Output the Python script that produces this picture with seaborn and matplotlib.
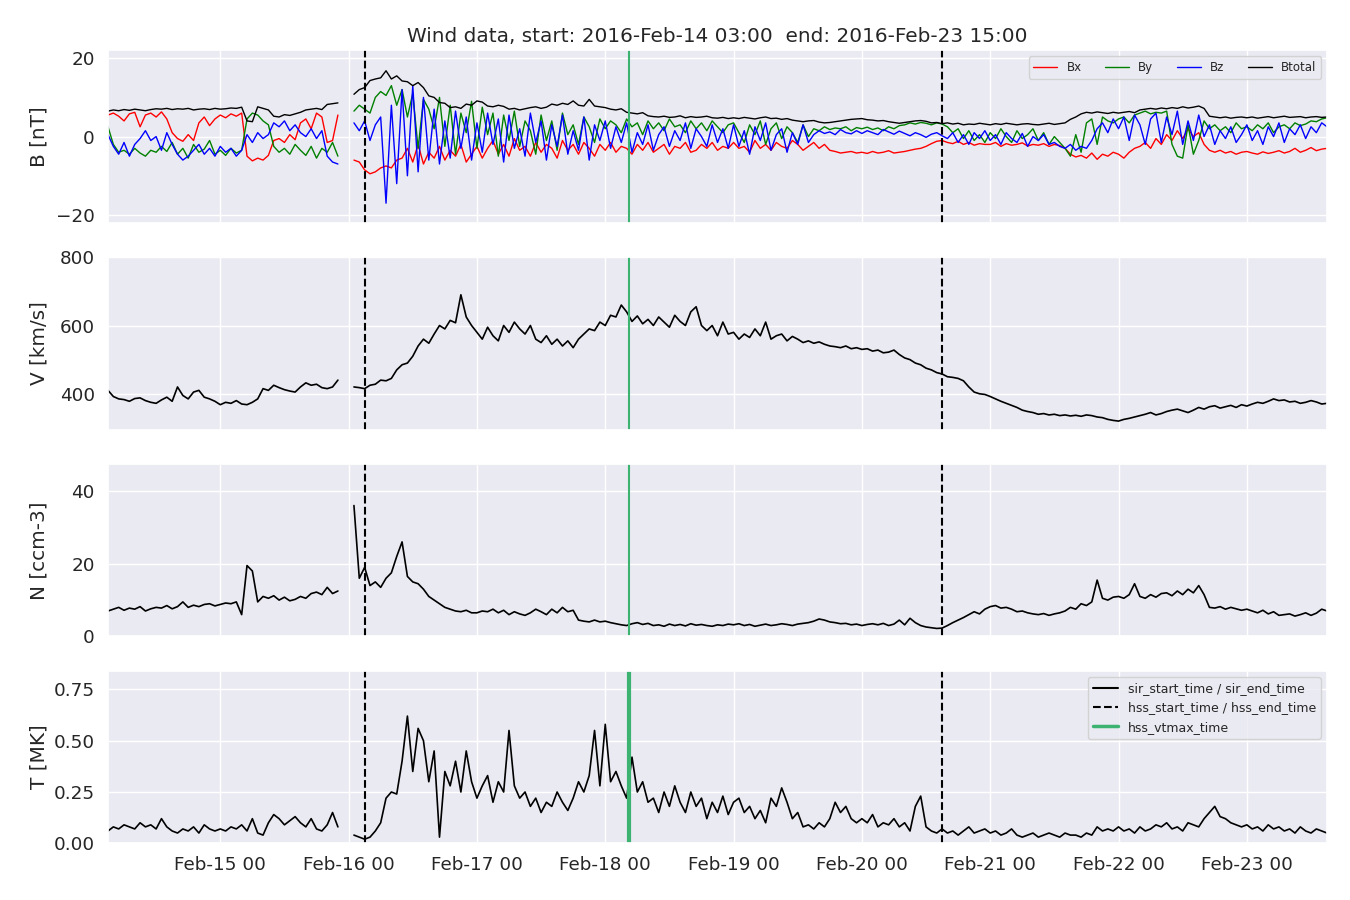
import numpy as np
import pandas as pd
import matplotlib
matplotlib.use('Agg')
import matplotlib.pyplot as plt
import matplotlib.dates as mdates
from matplotlib.lines import Line2D
import seaborn as sns

nan = np.nan

# ── Hourly Wind data, 2016-02-14 03:00 .. 2016-02-23 15:00 ──────────
start = '2016-02-14 03:00'
end = '2016-02-23 15:00'

bx = [
    5.5, 6.0, 5.2, 4.0, 5.8, 6.2, 2.5, 5.5, 6.0, 5.0, 6.3, 4.5, 1.0, -0.5, -1.2, 0.5, -1.0, 3.5, 5.0, 2.8, 4.5,
    5.5, 4.8, 5.8, 5.2, 6.0, -5.0, -6.2, -5.5, -6.0, -4.8, -1.0, -0.5, -1.5, 0.5, -0.8, 3.5, 4.5, 2.0, 6.0, 5.0, -1.5, -1.0, 5.5, nan,
    nan, -6.0, -6.5, -8.5, -9.5, -9.0, -8.0, -7.5, -8.0, -6.0, -5.5, -3.0, -6.5, -2.0, -7.0, -4.0, -5.5, -2.5, -6.0, -3.5, -5.0, -2.0, -6.5, -4.5,
    -2.5, -5.5, -3.0, -1.0, -4.5, -2.0, -5.0, -0.5, -3.5, -2.5, -5.0, -1.5, -4.0, -2.0, -3.0, -5.5, -1.0, -3.5, -2.0, -4.5, -1.5, -3.0, -5.0, -2.0,
    -3.5, -1.5, -4.0, -2.5, -3.0, -4.5, -2.0, -3.5, -1.5, -4.0, -3.0, -2.0, -4.5, -2.5, -3.0, -1.5, -4.0, -3.5, -2.0, -3.0, -1.5, -3.5, -2.5, -3.0,
    -1.5, -3.0, -2.5, -4.0, -1.0, -3.0, -2.0, -3.5, -1.5, -2.5, -3.0, -1.0, -2.0, -3.5, -2.5, -1.5, -3.0, -2.0, -3.5, -3.8, -4.2, -4.0, -3.8, -4.2,
    -4.0, -4.3, -3.8, -4.2, -4.0, -3.6, -4.2, -4.0, -3.8, -3.5, -3.2, -3.0, -2.5, -1.8, -1.2, -1.0, -1.5, -1.8, -1.2, -2.0, -1.5, -2.2, -1.8, -2.0,
    -2.0, -1.5, -2.5, -1.8, -2.2, -2.0, -1.6, -2.4, -2.0, -2.2, -1.8, -2.5, -2.0, -2.3, -3.0, -4.5, -5.2, -4.8, -5.5, -4.2, -5.8, -4.5, -5.0, -4.0,
    -4.5, -5.5, -4.0, -3.0, -2.5, -1.5, -3.0, -0.5, -2.0, 0.5, -1.0, 1.5, -0.5, 2.0, 0.0, 1.0, -2.0, -3.5, -4.0, -3.5, -4.2, -3.8, -4.5, -4.0,
    -3.8, -4.2, -4.5, -3.9, -4.3, -4.0, -3.6, -4.2, -3.8, -3.0, -4.0, -3.5, -2.8, -3.6, -3.2, -3.0,
]

by = [
    2.5, -2.0, -4.0, -3.5, -4.5, -3.0, -4.2, -5.0, -3.5, -4.0, -2.5, -3.8, -1.5, -4.5, -3.0, -5.5, -2.0, -4.0, -3.2, -1.0, -4.5,
    -3.5, -4.8, -3.0, -4.2, -3.5, 4.5, 6.0, 5.5, 4.0, 3.0, -2.5, -4.0, -3.0, -4.5, -2.0, -3.5, -4.8, -2.5, -5.5, -3.0, -4.0, -1.5, -5.0, nan,
    nan, 6.5, 8.0, 7.0, 6.0, 10.0, 11.5, 10.5, 13.0, 8.0, 12.0, 5.0, 11.0, -3.0, 9.5, 7.0, 2.0, 10.0, -2.5, 8.0, -4.5, 6.0, 1.0, 9.0,
    -3.0, 7.5, 0.5, 6.0, -5.0, 5.5, -1.0, 6.5, -2.5, 4.0, 1.5, -4.5, 5.5, -1.0, 4.0, -3.5, 6.0, 0.5, 3.0, -2.0, 5.0, 2.5, -1.5, 4.5,
    2.0, 4.0, 3.0, 1.0, 4.5, 2.5, 3.5, 0.5, 4.0, 2.0, 3.5, 1.5, 4.5, 2.5, 3.0, 1.0, 4.0, 2.0, 3.5, 1.5, 4.0, 2.5, 1.0, 3.0,
    3.5, 1.0, -1.5, 3.0, 0.5, 4.0, -2.0, 2.0, 3.5, -0.5, 2.5, 1.0, -1.5, 3.0, 0.0, 2.0, 1.5, 2.5, 1.8, 2.2, 2.0, 2.5, 1.5, 2.3,
    2.0, 2.4, 1.8, 2.2, 1.5, 2.5, 2.0, 2.8, 3.0, 3.5, 3.2, 3.6, 3.4, 3.0, 3.5, 3.2, 2.5, 1.0, 2.0, -0.5, 1.5, -1.0, 0.5, -1.5,
    1.0, -0.5, 2.0, 0.0, -1.5, 1.5, -0.5, 0.5, 2.0, -1.0, 1.0, -2.0, 0.0, -1.5, -3.0, -5.0, 0.5, -4.0, 3.5, 4.5, -2.0, 5.0, 4.0, 3.5,
    4.5, 5.0, 3.5, 5.5, 6.0, 6.5, 5.8, 6.2, 6.0, 6.5, -2.0, -5.0, -5.5, 3.0, -4.5, -1.0, 4.0, 2.0, 3.0, 1.5, 2.5, 1.0, 3.5, 2.0,
    2.5, 1.5, 3.0, 2.0, 3.5, 1.0, 2.5, 3.0, 2.0, 3.5, 2.8, 3.2, 4.0, 3.8, 4.5, 4.8,
]

bz = [
    0.5, -2.5, -4.5, -1.5, -5.0, -2.0, -0.5, 1.5, -1.0, 0.0, -3.5, 1.0, -2.0, -4.5, -6.0, -5.0, -3.5, -2.0, -4.5, -3.0, -5.0,
    -2.5, -4.0, -3.0, -5.0, -3.5, 0.5, -1.5, 1.0, -0.5, 0.5, 3.5, 2.5, 4.0, 1.5, 3.0, 1.0, 0.0, 2.0, -0.5, 1.5, -5.0, -6.5, -7.0, nan,
    nan, 3.5, 1.5, 4.0, -1.0, 3.0, 5.0, -17.0, 8.0, -12.0, 12.0, -10.0, 13.0, -9.0, 10.0, -6.0, 7.0, -7.0, 4.0, -5.5, 6.5, -3.0, 5.0, -6.0,
    3.5, -4.0, 6.0, -2.0, 4.5, -6.5, 5.5, -3.0, 2.0, -5.0, 6.0, -1.5, 4.0, -6.0, 3.0, -2.5, 5.5, -4.5, 1.5, -3.5, 5.0, -6.0, 3.0, -1.0,
    4.0, -3.0, 2.5, -1.5, 3.5, -4.0, 1.0, -2.0, 3.0, -3.5, 0.5, 2.5, -2.5, 1.5, -1.0, 3.5, -3.0, 2.0, 0.0, -2.5, 3.0, -1.5, 2.0, -3.0,
    3.0, -2.5, 1.5, -4.5, 2.5, -1.0, 3.5, -3.5, 0.5, 2.0, -4.0, 1.0, -2.0, 3.0, -1.5, 0.5, 1.5, 0.8, 1.2, 0.5, 1.8, 1.0, 0.7, 1.5,
    0.8, 1.5, 1.0, 0.5, 1.8, 1.2, 0.6, 1.4, 0.8, 0.2, 1.0, 0.5, -0.2, 0.6, 1.0, 0.2, -0.5, 1.0, -1.5, 0.5, -2.0, 1.0, -0.5, 1.5,
    -1.0, 0.5, -2.0, 1.0, -0.5, -1.5, 0.8, -2.5, 0.0, -1.0, 0.5, -2.0, -1.5, -2.5, -3.0, -2.0, -3.5, -2.5, -3.0, -1.0, 2.0, 3.5, 1.0, 4.5,
    2.0, 5.0, -1.0, 5.5, 3.0, -2.0, 4.5, 6.0, -1.5, 5.0, 0.5, 6.5, -2.0, 4.0, -1.0, 5.5, 0.0, 3.0, -2.0, 1.5, -0.5, 2.5, -1.5, 0.5,
    3.0, -1.0, 1.5, -2.0, 2.5, 0.0, 3.5, -1.5, 2.0, 0.5, 3.0, -0.5, 2.5, 1.0, 3.5, 2.5,
]

btotal = [
    6.5, 6.8, 6.6, 6.9, 6.7, 7.0, 6.8, 6.6, 6.9, 7.1, 7.0, 7.2, 6.9, 7.1, 7.0, 7.2, 6.8, 7.0, 7.1, 6.9, 7.2,
    7.0, 7.1, 7.3, 7.2, 7.5, 4.0, 3.8, 7.6, 7.2, 6.8, 5.2, 5.0, 5.6, 5.4, 5.8, 6.2, 6.8, 7.0, 7.2, 6.9, 8.2, 8.4, 8.6, nan,
    nan, 10.8, 12.0, 12.5, 14.3, 14.7, 15.0, 16.8, 14.7, 15.5, 14.2, 14.0, 13.0, 13.8, 12.5, 10.4, 10.0, 8.7, 8.5, 7.4, 7.6, 7.2, 8.3, 8.0,
    9.1, 8.8, 7.8, 7.6, 8.0, 7.7, 7.0, 7.2, 6.8, 7.1, 7.4, 7.6, 7.2, 7.5, 8.3, 8.0, 8.5, 8.2, 9.1, 8.0, 7.8, 9.5, 7.8, 7.6,
    7.4, 7.0, 6.8, 7.1, 6.2, 6.0, 5.8, 6.1, 5.3, 5.1, 5.0, 5.2, 4.9, 5.0, 5.3, 4.8, 5.1, 4.9, 5.0, 5.2, 4.8, 4.7, 4.9, 4.6,
    4.8, 4.6, 4.9, 4.7, 4.5, 4.8, 5.0, 4.6, 4.7, 4.4, 4.6, 4.2, 4.0, 3.8, 4.0, 4.1, 3.7, 3.5, 3.6, 3.8, 4.0, 4.2, 4.4, 4.5,
    4.6, 4.3, 4.2, 4.0, 4.1, 3.8, 3.6, 3.4, 3.6, 3.8, 4.0, 4.1, 3.9, 3.5, 3.6, 3.3, 3.5, 3.2, 3.4, 3.0, 3.2, 3.1, 3.4, 3.2,
    3.0, 3.3, 3.1, 3.4, 3.2, 3.0, 3.2, 3.3, 3.1, 3.0, 3.2, 3.4, 3.1, 3.3, 3.5, 4.4, 5.0, 5.8, 6.2, 6.0, 6.3, 6.1, 5.9, 6.2,
    6.0, 6.2, 6.4, 6.1, 6.8, 7.0, 7.2, 7.0, 7.3, 7.1, 7.4, 7.2, 7.6, 7.3, 7.5, 7.8, 7.2, 5.2, 5.0, 4.8, 5.0, 4.7, 4.9, 5.0,
    4.8, 5.0, 4.7, 4.9, 5.1, 4.8, 5.0, 5.2, 4.9, 5.0, 5.1, 4.8, 5.0, 5.1, 4.9, 5.0,
]

vel = [
    410, 392, 385, 383, 378, 386, 388, 380, 375, 372, 382, 390, 378, 420, 395, 385, 405, 410, 390, 385, 378,
    368, 375, 372, 380, 370, 368, 375, 385, 415, 410, 425, 418, 412, 408, 405, 420, 432, 425, 428, 418, 415, 420, 440, nan,
    nan, 420, 418, 415, 425, 428, 440, 438, 445, 470, 485, 490, 510, 540, 560, 548, 575, 600, 590, 615, 608, 690, 625, 600,
    580, 560, 595, 570, 555, 600, 580, 610, 590, 575, 600, 560, 550, 570, 545, 560, 540, 555, 535, 560, 575, 590, 585, 610,
    600, 630, 625, 660, 640, 612, 628, 605, 618, 600, 625, 610, 595, 630, 612, 600, 640, 655, 600, 585, 600, 570, 610, 575,
    580, 560, 575, 565, 590, 570, 610, 560, 570, 575, 555, 568, 560, 550, 555, 548, 552, 545, 540, 538, 535, 540, 532, 535,
    530, 532, 525, 528, 520, 522, 528, 515, 505, 500, 490, 485, 475, 470, 462, 458, 450, 448, 445, 438, 420, 405, 400, 398,
    392, 385, 378, 372, 366, 360, 352, 348, 345, 340, 342, 338, 340, 336, 338, 335, 337, 334, 338, 336, 332, 330, 325, 322,
    320, 325, 328, 332, 336, 340, 345, 338, 342, 348, 352, 355, 350, 345, 352, 360, 355, 362, 365, 358, 362, 366, 360, 368,
    364, 370, 375, 372, 378, 385, 380, 382, 376, 378, 372, 375, 380, 376, 370, 372,
]

dens = [
    7.0, 7.5, 8.0, 7.2, 7.8, 7.5, 8.2, 7.0, 7.6, 8.0, 7.8, 8.5, 7.6, 8.2, 9.5, 8.0, 8.6, 8.2, 8.8, 9.0, 8.4,
    8.8, 9.2, 9.0, 9.5, 6.0, 19.5, 18.0, 9.5, 11.0, 10.5, 11.2, 10.0, 10.8, 9.8, 10.2, 11.0, 10.5, 11.8, 12.2, 11.5, 13.5, 11.8, 12.5, nan,
    nan, 36.0, 16.0, 19.0, 14.0, 15.0, 13.5, 16.0, 17.5, 22.0, 26.0, 16.5, 15.0, 14.5, 13.0, 11.0, 10.0, 9.0, 8.0, 7.5, 7.0, 6.8, 7.2, 6.5,
    6.5, 7.0, 6.8, 7.5, 6.5, 7.2, 6.0, 6.8, 6.2, 5.8, 6.5, 7.5, 6.8, 6.0, 7.5, 6.5, 8.0, 6.8, 7.2, 4.5, 4.2, 4.0, 4.5, 4.0,
    4.2, 3.8, 3.5, 3.2, 3.0, 3.5, 3.8, 3.3, 3.6, 3.0, 3.2, 2.8, 3.4, 3.0, 3.3, 2.9, 3.5, 3.1, 3.3, 3.0, 2.8, 3.2, 3.0, 3.4,
    3.2, 3.5, 3.0, 3.3, 2.8, 3.1, 3.4, 3.0, 3.2, 3.5, 3.3, 3.0, 3.4, 3.6, 3.8, 4.2, 4.8, 4.5, 4.0, 3.8, 3.5, 3.6, 3.2, 3.4,
    3.0, 3.3, 3.5, 3.2, 3.6, 3.0, 3.4, 4.5, 3.2, 5.0, 3.8, 3.0, 2.6, 2.4, 2.2, 2.3, 3.0, 3.8, 4.5, 5.2, 6.0, 6.8, 6.2, 7.5,
    8.2, 8.5, 7.8, 8.0, 7.5, 6.8, 7.0, 6.5, 6.2, 6.0, 6.3, 5.8, 6.2, 6.5, 7.0, 8.0, 7.5, 9.0, 8.5, 9.5, 15.5, 10.5, 10.0, 10.8,
    11.0, 10.5, 11.5, 14.5, 11.0, 10.5, 11.5, 10.8, 11.8, 12.0, 11.2, 12.5, 11.5, 13.0, 12.0, 14.0, 11.5, 8.0, 7.8, 8.2, 7.5, 8.0, 7.6, 7.2,
    7.5, 7.0, 6.5, 7.2, 6.2, 6.8, 5.8, 6.0, 6.2, 5.6, 6.0, 6.5, 5.8, 6.4, 7.5, 7.0,
]

temp = [
    0.06, 0.08, 0.07, 0.09, 0.08, 0.07, 0.10, 0.08, 0.09, 0.07, 0.12, 0.08, 0.06, 0.05, 0.07, 0.06, 0.08, 0.05, 0.09, 0.07, 0.06,
    0.07, 0.06, 0.08, 0.07, 0.09, 0.06, 0.12, 0.05, 0.04, 0.10, 0.14, 0.12, 0.09, 0.11, 0.13, 0.10, 0.08, 0.12, 0.07, 0.06, 0.09, 0.15, 0.08, nan,
    nan, 0.04, 0.03, 0.02, 0.03, 0.06, 0.10, 0.22, 0.25, 0.24, 0.40, 0.62, 0.35, 0.56, 0.50, 0.30, 0.45, 0.03, 0.35, 0.28, 0.40, 0.25, 0.45, 0.30,
    0.22, 0.28, 0.33, 0.20, 0.30, 0.25, 0.55, 0.28, 0.22, 0.25, 0.18, 0.22, 0.15, 0.20, 0.18, 0.25, 0.20, 0.16, 0.22, 0.30, 0.25, 0.33, 0.55, 0.28,
    0.58, 0.30, 0.35, 0.28, 0.22, 0.42, 0.25, 0.30, 0.20, 0.22, 0.15, 0.25, 0.18, 0.28, 0.20, 0.15, 0.25, 0.18, 0.22, 0.12, 0.20, 0.15, 0.23, 0.14,
    0.20, 0.22, 0.15, 0.18, 0.12, 0.16, 0.10, 0.22, 0.18, 0.27, 0.20, 0.12, 0.15, 0.08, 0.09, 0.07, 0.10, 0.08, 0.12, 0.20, 0.15, 0.18, 0.12, 0.10,
    0.12, 0.10, 0.14, 0.08, 0.10, 0.09, 0.12, 0.08, 0.10, 0.06, 0.18, 0.23, 0.08, 0.06, 0.05, 0.07, 0.05, 0.06, 0.04, 0.06, 0.08, 0.05, 0.06, 0.07,
    0.05, 0.06, 0.04, 0.05, 0.07, 0.04, 0.03, 0.04, 0.05, 0.03, 0.04, 0.05, 0.04, 0.03, 0.05, 0.04, 0.04, 0.03, 0.05, 0.04, 0.08, 0.06, 0.07, 0.06,
    0.08, 0.06, 0.07, 0.05, 0.08, 0.06, 0.07, 0.09, 0.08, 0.10, 0.07, 0.08, 0.06, 0.10, 0.09, 0.08, 0.12, 0.15, 0.18, 0.13, 0.12, 0.10, 0.09, 0.08,
    0.09, 0.07, 0.08, 0.06, 0.09, 0.07, 0.08, 0.06, 0.07, 0.05, 0.08, 0.06, 0.05, 0.07, 0.06, 0.05,
]

# event times
hss_times = ['2016-02-16 03:00', '2016-02-20 15:00']
vtmax_time = '2016-02-18 04:30'

# ── Build frame ───────────────────────────────────────────
times = pd.date_range(start, end, freq='h')
for name, arr in [('bx', bx), ('by', by), ('bz', bz), ('btotal', btotal),
                  ('vel', vel), ('dens', dens), ('temp', temp)]:
    assert len(arr) == len(times), (name, len(arr), len(times))

df = pd.DataFrame({'time': times, 'Bx': bx, 'By': by, 'Bz': bz, 'Btotal': btotal,
                   'V': vel, 'N': dens, 'T': temp})
df['seg'] = df['Btotal'].isna().cumsum()  # break lines at the data gap

sns.set_theme(style='darkgrid', font_scale=1.2)

fig, axes = plt.subplots(4, 1, figsize=(13.5, 9), sharex=True)
fig.subplots_adjust(left=0.08, right=0.983, top=0.944, bottom=0.063, hspace=0.2)

# ── B panel ───────────────────────────────────────────────
b_colors = {'Bx': 'red', 'By': 'green', 'Bz': 'blue', 'Btotal': 'black'}
blong = df.melt(id_vars=['time', 'seg'], value_vars=list(b_colors),
                var_name='comp', value_name='B').dropna()
sns.lineplot(data=blong, x='time', y='B', hue='comp', units='seg', estimator=None,
             palette=b_colors, hue_order=list(b_colors), lw=1, legend=False,
             sort=False, ax=axes[0])
axes[0].set_ylim(-22, 22)
axes[0].set_yticks([-20, 0, 20])
axes[0].set_ylabel('B [nT]')
b_handles = [Line2D([], [], color=c, lw=1, label=k) for k, c in b_colors.items()]
axes[0].legend(handles=b_handles, loc='upper right', ncol=4, fontsize=8.5)

# ── V, N, T panels ────────────────────────────────────────
panels = [('V', 'V [km/s]', (295, 800), [400, 600, 800]),
          ('N', 'N [ccm-3]', (0, 47.4), [0, 20, 40]),
          ('T', 'T [MK]', (0, 0.84), [0, 0.25, 0.5, 0.75])]
for ax, (col, lab, lim, ticks) in zip(axes[1:], panels):
    sns.lineplot(data=df.dropna(subset=[col]), x='time', y=col, units='seg',
                 estimator=None, color='black', lw=1.2, sort=False, ax=ax)
    ax.set_ylim(*lim)
    ax.set_yticks(ticks)
    ax.set_ylabel(lab)
axes[3].yaxis.set_major_formatter(matplotlib.ticker.FormatStrFormatter('%.2f'))

# ── Event lines ───────────────────────────────────────────
for i, ax in enumerate(axes):
    for t in hss_times:
        ax.axvline(pd.Timestamp(t), color='black', ls='--', lw=1.5)
    ax.axvline(pd.Timestamp(vtmax_time), color='mediumseagreen',
               lw=3 if i == 3 else 1.5)
    ax.set_xlabel('')

ev_handles = [Line2D([], [], color='black', lw=1.5, label='sir_start_time / sir_end_time'),
              Line2D([], [], color='black', ls='--', lw=1.5, label='hss_start_time / hss_end_time'),
              Line2D([], [], color='mediumseagreen', lw=2.5, label='hss_vtmax_time')]
axes[3].legend(handles=ev_handles, loc='upper right', fontsize=9)

axes[3].set_xlim(pd.Timestamp(start), pd.Timestamp(end))
axes[3].xaxis.set_major_locator(mdates.DayLocator())
axes[3].xaxis.set_major_formatter(mdates.DateFormatter('%b-%d %H'))
fig.align_ylabels(axes)

axes[0].set_title('Wind data, start: 2016-Feb-14 03:00  end: 2016-Feb-23 15:00')

plt.savefig('out.png', dpi=100)
plt.close()
